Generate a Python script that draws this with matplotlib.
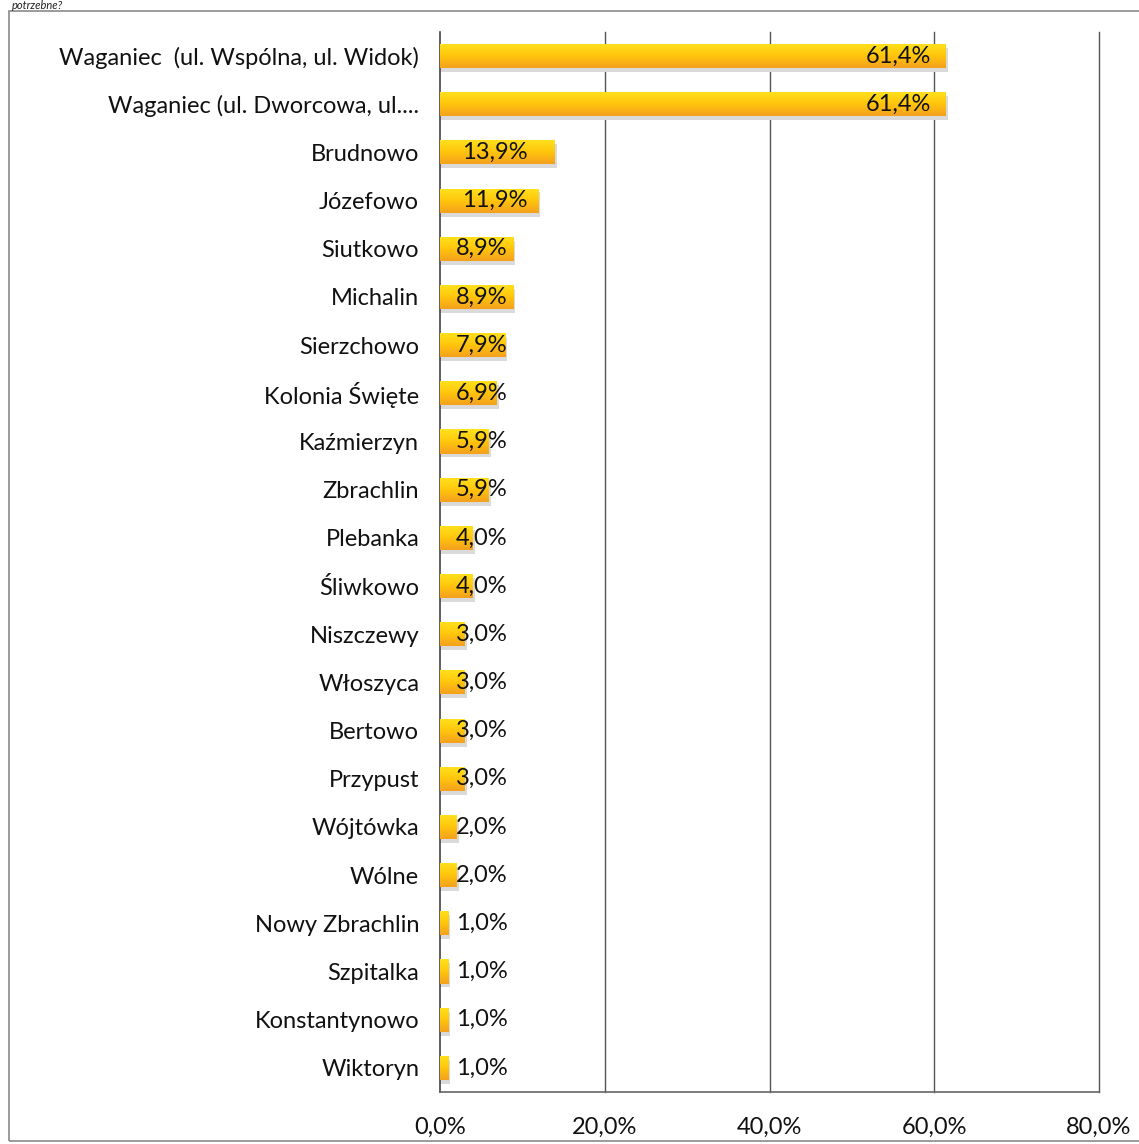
import numpy as np
import matplotlib
matplotlib.use("Agg")
import matplotlib.pyplot as plt
from matplotlib.patches import Rectangle

categories = ["Waganiec  (ul. Wspólna, ul. Widok)", "Waganiec (ul. Dworcowa, ul....",
              "Brudnowo", "Józefowo", "Siutkowo", "Michalin", "Sierzchowo",
              "Kolonia Święte", "Kaźmierzyn", "Zbrachlin", "Plebanka", "Śliwkowo",
              "Niszczewy", "Włoszyca", "Bertowo", "Przypust", "Wójtówka", "Wólne",
              "Nowy Zbrachlin", "Szpitalka", "Konstantynowo", "Wiktoryn"]
values = [61.4, 61.4, 13.9, 11.9, 8.9, 8.9, 7.9, 6.9, 5.9, 5.9, 4.0, 4.0,
          3.0, 3.0, 3.0, 3.0, 2.0, 2.0, 1.0, 1.0, 1.0, 1.0]
xticks = [0, 20, 40, 60, 80]

plt.rcParams['font.family'] = ['Lato', 'DejaVu Sans']
fs = 17

fig = plt.figure(figsize=(11.39, 11.44), dpi=100)
ax = fig.add_axes([440 / 1139, (1144 - 1092) / 1144, (1099 - 440) / 1139, (1092 - 32) / 1144])

# outer frame of the chart
fig.patches.append(Rectangle((9 / 1139, 3 / 1144), 1.2, (1133 - 3) / 1144,
                             transform=fig.transFigure, fill=False,
                             edgecolor='#8a8a8a', linewidth=1.2))
fig.text(12 / 1139, 1.0, "potrzebne?", ha='left', va='top', fontsize=8,
         style='italic', color='#222222')

ypos = np.arange(len(categories))
height = 0.5

# vertical yellow -> orange gradient for the bars
grad = np.linspace(0, 1, 64).reshape(-1, 1)
cmap = matplotlib.colors.LinearSegmentedColormap.from_list(
    "yo", ["#FFE21F", "#FFC60C", "#F4A01E"])

for y, v in zip(ypos, values):
    # soft shadow
    ax.add_patch(Rectangle((0, y - height / 2 + 0.08), v + 0.25, height,
                           facecolor='#dadada', edgecolor='none', zorder=2))
    bar = ax.barh(y, v, height=height, color='none', edgecolor='none', zorder=3)[0]
    im = ax.imshow(grad, cmap=cmap, aspect='auto', zorder=3,
                   extent=(0, v, y + height / 2, y - height / 2))
    im.set_clip_path(bar)

ax.set_ylim(len(categories) - 0.5, -0.5)
ax.set_xlim(0, 80)

for y, v in zip(ypos, values):
    lbl = f"{v:.1f}%".replace(".", ",")
    if v > 20:
        ax.text(v - 1.8, y, lbl, ha='right', va='center', fontsize=fs,
                color='#111111', zorder=4)
    else:
        x0 = 2.7 if v > 10 else 1.9
        ax.text(x0, y, lbl, ha='left', va='center', fontsize=fs,
                color='#111111', zorder=4)

ax.set_yticks(ypos)
ax.set_yticklabels(categories, fontsize=fs, color='#111111')
ax.set_xticks(xticks)
ax.set_xticklabels([f"{t:.1f}%".replace(".", ",") for t in xticks],
                   fontsize=fs, color='#111111')
ax.tick_params(axis='y', length=0, pad=15)
ax.tick_params(axis='x', length=0, pad=18)

for t in xticks[1:]:
    ax.axvline(t, color='#555555', linewidth=1.0, zorder=1, clip_on=False)
for s in ['top', 'right']:
    ax.spines[s].set_visible(False)
ax.spines['left'].set_color('#444444')
ax.spines['bottom'].set_color('#666666')
ax.spines['left'].set_linewidth(1.2)
ax.spines['bottom'].set_linewidth(1.2)

fig.savefig("out.png", dpi=100)
